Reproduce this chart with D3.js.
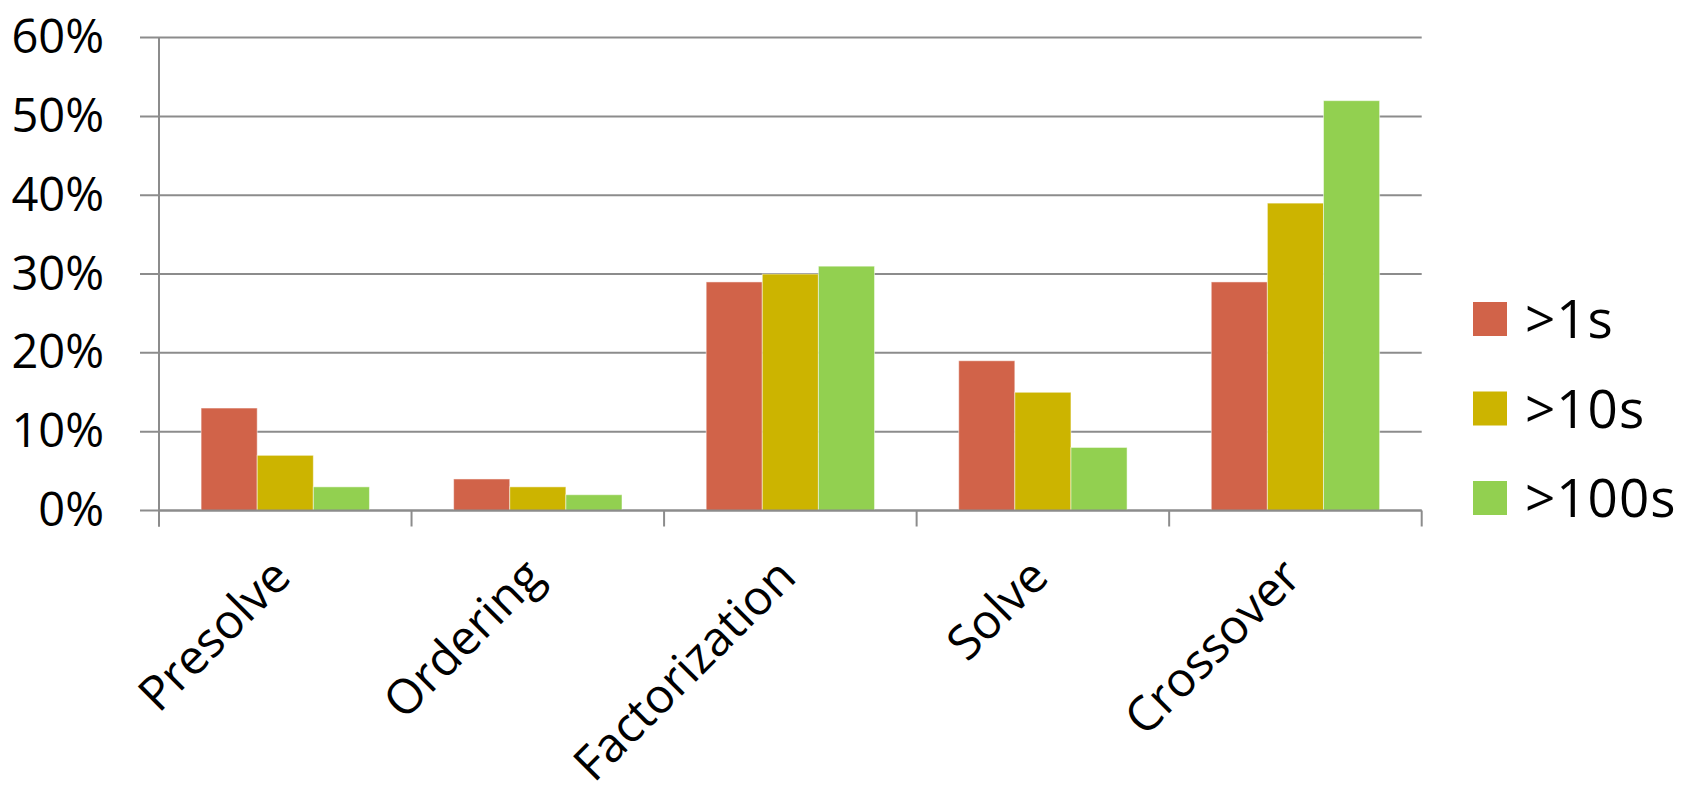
<!DOCTYPE html>
<html>
<head>
<meta charset="utf-8">
<script src="https://cdn.jsdelivr.net/npm/d3@7"></script>
<style>
  html, body { margin: 0; padding: 0; background: #fff; }
  svg { display: block; }
  text { font-family: "Open Sans", sans-serif; fill: #000; }
</style>
</head>
<body>
<svg id="chart" width="1685" height="795"></svg>
<script>
// Share of solve time spent in each phase, by run-time class
const categories = ["Presolve", "Ordering", "Factorization", "Solve", "Crossover"];
const seriesNames = [">1s", ">10s", ">100s"];
const over1s   = [13, 4, 29, 19, 29];
const over10s  = [7, 3, 30, 15, 39];
const over100s = [3, 2, 31, 8, 52];
const yTicks = [0, 10, 20, 30, 40, 50, 60];
const colors = ["#d16349", "#ccb400", "#92d050"];

const seriesValues = [over1s, over10s, over100s];
const rows = categories.map((c, i) => ({
  category: c,
  values: seriesValues.map((s, j) => ({ key: seriesNames[j], value: s[i] }))
}));

const svg = d3.select("#chart");

const plotLeft = 159, plotRight = 1421.7, plotTop = 37.6, plotBottom = 510.5;

const x = d3.scaleBand().domain(categories).range([plotLeft, plotRight]).paddingInner(0).paddingOuter(0);
const xs = d3.scaleBand().domain(seriesNames).range([0, x.bandwidth()]).paddingInner(0).paddingOuter(0.75);
const y = d3.scaleLinear().domain([0, 60]).range([plotBottom, plotTop]);
const color = d3.scaleOrdinal().domain(seriesNames).range(colors);

// horizontal gridlines with small outer ticks
svg.append("g")
  .selectAll("line")
  .data(yTicks)
  .join("line")
  .attr("x1", plotLeft - 19)
  .attr("x2", plotRight)
  .attr("y1", d => y(d))
  .attr("y2", d => y(d))
  .attr("stroke", "#8c8c8c")
  .attr("stroke-width", 2);

// y tick labels
svg.append("g")
  .selectAll("text")
  .data(yTicks)
  .join("text")
  .attr("x", 104)
  .attr("y", d => y(d))
  .attr("dy", "0.33em")
  .attr("text-anchor", "end")
  .style("font-size", "47px")
  .text(d => d + "%");

// bars
const groups = svg.append("g")
  .selectAll("g")
  .data(rows)
  .join("g")
  .attr("transform", d => `translate(${x(d.category)},0)`);

groups.selectAll("rect")
  .data(d => d.values)
  .join("rect")
  .attr("x", d => xs(d.key))
  .attr("width", xs.bandwidth())
  .attr("y", d => y(d.value))
  .attr("height", d => y(0) - y(d.value))
  .attr("fill", d => color(d.key))
  .attr("stroke", "rgba(255,255,255,0.5)")
  .attr("stroke-width", 1);

// y axis line and category boundary ticks
svg.append("line")
  .attr("x1", plotLeft).attr("x2", plotLeft)
  .attr("y1", plotTop).attr("y2", plotBottom + 16)
  .attr("stroke", "#8c8c8c").attr("stroke-width", 2);

const boundaries = categories.map(c => x(c)).concat([plotRight]);
svg.append("g")
  .selectAll("line")
  .data(boundaries)
  .join("line")
  .attr("x1", d => d).attr("x2", d => d)
  .attr("y1", plotBottom).attr("y2", plotBottom + 16)
  .attr("stroke", "#8c8c8c").attr("stroke-width", 2);

svg.append("line")
  .attr("x1", plotLeft).attr("x2", plotRight)
  .attr("y1", plotBottom).attr("y2", plotBottom)
  .attr("stroke", "#8c8c8c").attr("stroke-width", 2);

// rotated category labels
svg.append("g")
  .selectAll("text")
  .data(categories)
  .join("text")
  .attr("transform", d => `translate(${x(d) + x.bandwidth() / 2 - 4},${plotBottom + 57}) rotate(-45)`)
  .attr("text-anchor", "end")
  .attr("dy", "0.35em")
  .style("font-size", "48px")
  .text(d => d);

// legend
const legend = svg.append("g")
  .selectAll("g")
  .data(seriesNames)
  .join("g")
  .attr("transform", (d, i) => `translate(1473,${302 + i * 89.5})`);

legend.append("rect")
  .attr("width", 34).attr("height", 34)
  .attr("fill", d => color(d));

legend.append("text")
  .attr("x", 52)
  .attr("y", 17)
  .attr("dy", "0.36em")
  .style("font-size", "53px")
  .style("letter-spacing", "1px")
  .text(d => d);
</script>
</body>
</html>
